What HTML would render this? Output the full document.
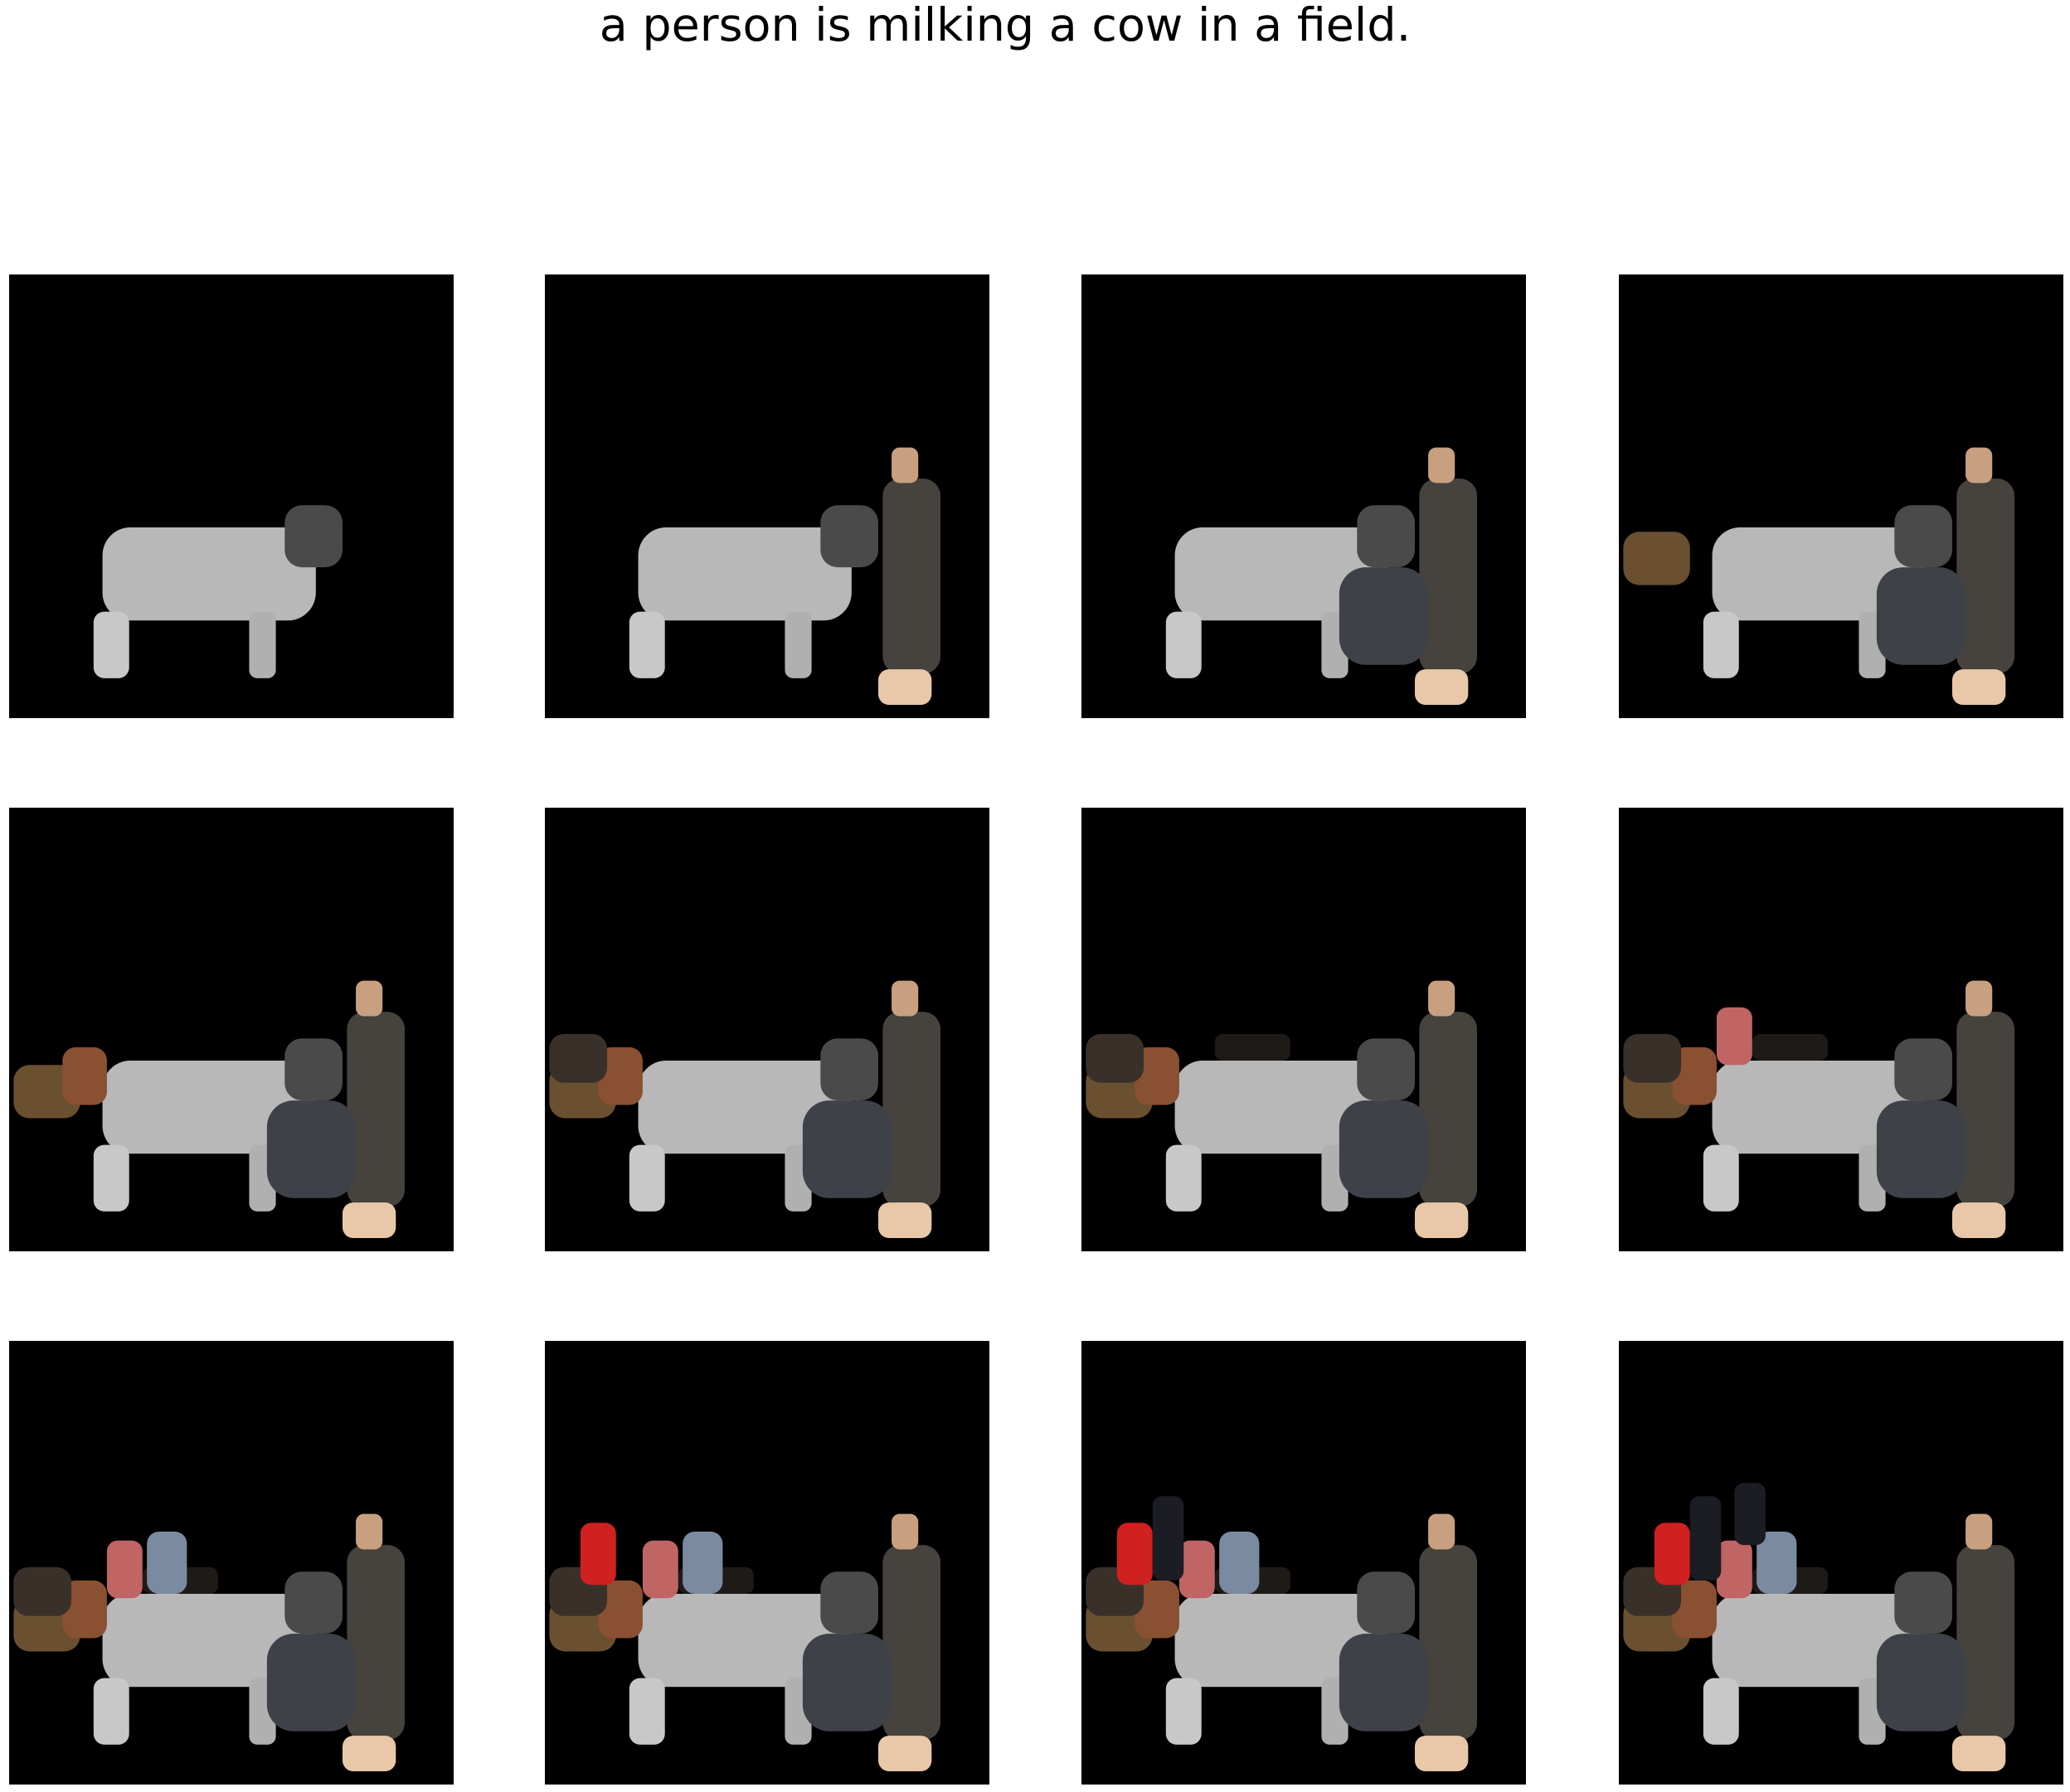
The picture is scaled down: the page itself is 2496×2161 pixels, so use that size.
<!DOCTYPE html>
<html>
<head>
<meta charset="utf-8">
<style>
html,body{margin:0;padding:0;background:#fff;}
body{width:2496px;height:2161px;position:relative;overflow:hidden;font-family:"DejaVu Sans","Liberation Sans",sans-serif;}
#title{position:absolute;left:0;width:2424px;top:-2px;text-align:center;font-size:55.5px;line-height:66px;color:#000;}
.panel{position:absolute;width:536px;height:535px;background:#000;}
.panel svg{width:100%;height:100%;display:block;}
</style>
</head>
<body>
<div id="title">a person is milking a cow in a field.</div>
<div id="grid"></div>
<script>
const colX = [11, 657, 1304, 1952];
const rowY = [331, 974, 1617];
const objStage = [1,1,1,1,2,2,2,3,4,5,6,7,8,9,10,11,12];
const objName = ['cow-body','cow-legs-front','cow-legs-back','cow-head','person-suit','person-head','person-feet','dark-calf','brown-calf','red-cow','dark-cow','black-cow','pink-person','blue-person','red-shirt-person','girl-1','girl-2'];
const objColor = ['#b8b8b8','#c8c8c8','#b0b0b0','#4a4a4a','#46423d','#c8a080','#e8c8a8','#3e4248','#6a5030','#8a5032','#3a302a','#1e1a18','#c06464','#7a8aa0','#d02020','#1c1c24','#1c1c24'];
const objRect = [
 [21,57,48,21],[19,76,8,15],[54,76,6,15],[62,52,13,14],
 [76,46,13,44],[78,39,6,8],[75,89,12,8],
 [58,66,20,22],[1,58,15,12],[12,54,10,13],[1,51,13,11],[30,51,17,6],
 [22,45,8,13],[31,43,9,14],[8,41,8,14],[16,35,7,19],[26,32,7,14]
];
const grid = document.getElementById('grid');
const ns = 'http://www.w3.org/2000/svg';
let idx = 0;
for (let r = 0; r < rowY.length; r++) {
  for (let c = 0; c < colX.length; c++) {
    idx++;
    const p = document.createElement('div');
    p.className = 'panel';
    p.style.left = colX[c] + 'px';
    p.style.top = rowY[r] + 'px';
    
    
    const svg = document.createElementNS(ns, 'svg');
    svg.setAttribute('viewBox', '0 0 100 100');
    svg.setAttribute('preserveAspectRatio', 'none');
    for (let k = 0; k < objStage.length; k++) {
      if (objStage[k] > idx) continue;
      const b = objRect[k];
      const e = document.createElementNS(ns, 'rect');
      e.setAttribute('x', b[0]); e.setAttribute('y', b[1]);
      e.setAttribute('width', b[2]); e.setAttribute('height', b[3]);
      e.setAttribute('rx', Math.min(b[2], b[3]) * 0.3);
      e.setAttribute('fill', objColor[k]);
      
      
      svg.appendChild(e);
    }
    p.appendChild(svg);
    grid.appendChild(p);
  }
}
</script>
</body>
</html>
